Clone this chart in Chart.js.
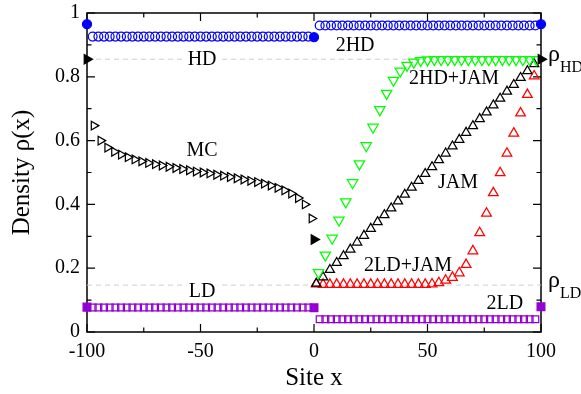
<!DOCTYPE html>
<html>
<head>
<meta charset="utf-8">
<script src="https://cdn.jsdelivr.net/npm/chart.js@4.4.1/dist/chart.umd.min.js"></script>
<style>
  html, body { margin: 0; padding: 0; background: #fff; }
  canvas { display: block; }
</style>
</head>
<body>
<canvas id="densityChart" width="581" height="394"></canvas>
<script>
// ---------------- DATA ----------------
const rhoHD = 0.855;
const rhoLD = 0.147;

// boundary points at x = -100, 0, 100 (filled markers)
const boundarySites = [-100, 0, 100];
const blueBoundary = [0.965, 0.924, 0.965];
const purpleBoundary = [0.078, 0.076, 0.079];
const blackBoundary = [0.855, 0.29, 0.855];

// HD / LD plateaus (open circles / open squares)
const leftSites = [-97.5, -95, -92.5, -90, -87.5, -85, -82.5, -80, -77.5, -75, -72.5, -70, -67.5,
  -65, -62.5, -60, -57.5, -55, -52.5, -50, -47.5, -45, -42.5, -40, -37.5, -35, -32.5, -30, -27.5,
  -25, -22.5, -20, -17.5, -15, -12.5, -10, -7.5, -5, -2.5];
const rightSites = [2.5, 5, 7.5, 10, 12.5, 15, 17.5, 20, 22.5, 25, 27.5, 30, 32.5, 35, 37.5, 40,
  42.5, 45, 47.5, 50, 52.5, 55, 57.5, 60, 62.5, 65, 67.5, 70, 72.5, 75, 77.5, 80, 82.5, 85, 87.5,
  90, 92.5, 95, 97.5];
const hdLeft = [0.926, 0.926, 0.926, 0.926, 0.926, 0.926, 0.926, 0.926, 0.926, 0.926, 0.926, 0.926,
  0.926, 0.926, 0.926, 0.926, 0.926, 0.926, 0.926, 0.926, 0.926, 0.926, 0.926, 0.926, 0.926, 0.926,
  0.926, 0.926, 0.926, 0.926, 0.926, 0.926, 0.926, 0.926, 0.926, 0.926, 0.926, 0.926, 0.926];
const hdRight = [0.961, 0.961, 0.961, 0.961, 0.961, 0.961, 0.961, 0.961, 0.961, 0.961, 0.961, 0.961,
  0.961, 0.961, 0.961, 0.961, 0.961, 0.961, 0.961, 0.961, 0.961, 0.961, 0.961, 0.961, 0.961, 0.961,
  0.961, 0.961, 0.961, 0.961, 0.961, 0.961, 0.961, 0.961, 0.961, 0.961, 0.961, 0.961, 0.961];
const ldLeft = [0.077, 0.077, 0.077, 0.077, 0.077, 0.077, 0.077, 0.077, 0.077, 0.077, 0.077, 0.077,
  0.077, 0.077, 0.077, 0.077, 0.077, 0.077, 0.077, 0.077, 0.077, 0.077, 0.077, 0.077, 0.077, 0.077,
  0.077, 0.077, 0.077, 0.077, 0.077, 0.077, 0.077, 0.077, 0.077, 0.077, 0.077, 0.077, 0.077];
const ldRight = [0.040, 0.040, 0.040, 0.040, 0.040, 0.040, 0.040, 0.040, 0.040, 0.040, 0.040, 0.040,
  0.040, 0.040, 0.040, 0.040, 0.040, 0.040, 0.040, 0.040, 0.040, 0.040, 0.040, 0.040, 0.040, 0.040,
  0.040, 0.040, 0.040, 0.040, 0.040, 0.040, 0.040, 0.040, 0.040, 0.040, 0.040, 0.040, 0.040];

// MC profile (left segment)
const mcSites = [-97, -94, -91, -88, -85, -82, -79, -76, -73, -70, -67, -64, -61, -58, -55, -52,
  -49, -46, -43, -40, -37, -34, -31, -28, -25, -22, -19, -16, -13, -10, -7, -4, -1];
const mcDensity = [0.647, 0.600, 0.578, 0.565, 0.556, 0.548, 0.541, 0.535, 0.530, 0.526, 0.522,
  0.518, 0.514, 0.511, 0.507, 0.503, 0.500, 0.497, 0.493, 0.490, 0.486, 0.482, 0.478, 0.474, 0.470,
  0.465, 0.459, 0.452, 0.444, 0.434, 0.420, 0.400, 0.356];

// right segment profiles
const jamSites = [1, 4, 7, 10, 13, 16, 19, 22, 25, 28, 31, 34, 37, 40, 43, 46, 49, 52, 55, 58, 61,
  64, 67, 70, 73, 76, 79, 82, 85, 88, 91, 94, 97];
const jamDensity = [0.152, 0.172, 0.195, 0.217, 0.238, 0.259, 0.281, 0.302, 0.324, 0.345, 0.367,
  0.388, 0.410, 0.431, 0.453, 0.474, 0.496, 0.517, 0.539, 0.560, 0.582, 0.603, 0.625, 0.646, 0.668,
  0.689, 0.711, 0.732, 0.754, 0.775, 0.797, 0.818, 0.840];
const ldJamDensity = [0.150, 0.149, 0.149, 0.149, 0.149, 0.149, 0.149, 0.149, 0.149, 0.149, 0.149,
  0.149, 0.149, 0.149, 0.149, 0.149, 0.149, 0.150, 0.154, 0.162, 0.171, 0.185, 0.211, 0.254, 0.311,
  0.372, 0.436, 0.499, 0.560, 0.623, 0.686, 0.744, 0.802];
const hdJamSites = [2, 5, 8, 11, 14, 17, 20, 23, 26, 29, 32, 35, 38, 41, 44, 47, 50, 53, 56, 59,
  62, 65, 68, 71, 74, 77, 80, 83, 86, 89, 92, 95, 98];
const hdJamDensity = [0.186, 0.241, 0.294, 0.351, 0.408, 0.468, 0.527, 0.584, 0.642, 0.697, 0.748,
  0.789, 0.818, 0.836, 0.846, 0.851, 0.853, 0.854, 0.854, 0.854, 0.854, 0.854, 0.854, 0.854, 0.854,
  0.854, 0.854, 0.854, 0.854, 0.854, 0.854, 0.854, 0.854];

// axes
const xTicks = [-100, -75, -50, -25, 0, 25, 50, 75, 100];
const yTicks = [0, 0.1, 0.2, 0.3, 0.4, 0.5, 0.6, 0.7, 0.8, 0.9, 1];

// text labels in the plot (data coords)
const phaseLabels = [
  { text: "HD", x: -49.3, y: 0.853, box: true },
  { text: "2HD", x: 18.1, y: 0.897 },
  { text: "MC", x: -49.3, y: 0.567 },
  { text: "2HD+JAM", x: 61.7, y: 0.793 },
  { text: "JAM", x: 63.4, y: 0.467 },
  { text: "2LD+JAM", x: 41.4, y: 0.207 },
  { text: "LD", x: -49.3, y: 0.125, box: true },
  { text: "2LD", x: 84.1, y: 0.088 }
];

const SERIF = '"Liberation Serif", "Times New Roman", serif';

function pts(xs, ys) {
  return xs.map((x, i) => ({ x: x, y: ys[i] }));
}

function markers(data, style, color, radius, filled, rotation) {
  return {
    data: data,
    showLine: false,
    clip: false,
    pointStyle: style,
    pointRadius: radius,
    pointHoverRadius: radius,
    pointRotation: rotation || 0,
    pointBorderColor: color,
    pointBackgroundColor: filled ? color : "rgba(0,0,0,0)",
    pointBorderWidth: 1.25
  };
}

function refLine(y) {
  return {
    type: "line",
    data: [{ x: -100, y: y }, { x: 100, y: y }],
    borderColor: "#cfcfcf",
    borderWidth: 1,
    borderDash: [5, 4],
    pointRadius: 0,
    clip: false
  };
}

// ---------------- FRAME, INWARD TICKS, LABELS ----------------
const framePlugin = {
  id: "frame",
  beforeDatasetsDraw(chart) {
    const ctx = chart.ctx;
    const xs = chart.scales.x, ys = chart.scales.y;
    const { left, right, top, bottom } = chart.chartArea;
    ctx.save();
    ctx.strokeStyle = "#000";
    ctx.lineWidth = 1.5;
    ctx.strokeRect(left, top, right - left, bottom - top);
    ctx.lineWidth = 1.2;
    ctx.beginPath();
    xTicks.forEach(v => {
      const px = xs.getPixelForValue(v);
      const len = v % 50 === 0 ? 8 : 4.5;
      ctx.moveTo(px, bottom); ctx.lineTo(px, bottom - len);
      ctx.moveTo(px, top); ctx.lineTo(px, top + len);
    });
    yTicks.forEach((v, i) => {
      const py = ys.getPixelForValue(v);
      const len = i % 2 === 0 ? 8 : 4.5;
      ctx.moveTo(left, py); ctx.lineTo(left + len, py);
      ctx.moveTo(right, py); ctx.lineTo(right - len, py);
    });
    ctx.stroke();
    ctx.restore();
  },
  afterDatasetsDraw(chart) {
    const ctx = chart.ctx;
    const xs = chart.scales.x, ys = chart.scales.y;
    ctx.save();
    ctx.font = "20px " + SERIF;
    ctx.textAlign = "center";
    ctx.textBaseline = "middle";
    phaseLabels.forEach(l => {
      const px = xs.getPixelForValue(l.x);
      const py = ys.getPixelForValue(l.y);
      if (l.box) {
        const w = ctx.measureText(l.text).width;
        ctx.fillStyle = "#fff";
        ctx.fillRect(px - w / 2 - 2, py - 8, w + 4, 16);
      }
      ctx.fillStyle = "#000";
      ctx.fillText(l.text, px, py);
    });

    // rho_HD and rho_LD on the right side
    const rx = chart.chartArea.right + 7;
    [["HD", rhoHD], ["LD", rhoLD]].forEach(([sub, val]) => {
      const py = ys.getPixelForValue(val);
      ctx.textAlign = "left";
      ctx.textBaseline = "alphabetic";
      ctx.font = "24px " + SERIF;
      ctx.fillText("\u03C1", rx, py + 2);
      const w = ctx.measureText("\u03C1").width;
      ctx.font = "16px " + SERIF;
      ctx.fillText(sub, rx + w, py + 13);
    });
    ctx.restore();
  }
};

Chart.defaults.color = "#000";
Chart.defaults.font.family = SERIF;

new Chart(document.getElementById("densityChart").getContext("2d"), {
  type: "scatter",
  data: {
    datasets: [
      markers(pts(boundarySites, blackBoundary), "triangle", "#000", 5.5, true, 90),
      markers(pts(boundarySites, blueBoundary), "circle", "#0000ff", 4.5, true),
      markers(pts(boundarySites, purpleBoundary), "rect", "#9400d3", 5.5, true),
      markers(pts(hdJamSites, hdJamDensity), "triangle", "#00ff00", 6, false, 180),
      markers(pts(jamSites, jamDensity), "triangle", "#000", 5.3, false),
      markers(pts(jamSites, ldJamDensity), "triangle", "#ff0000", 5.6, false),
      markers(pts(mcSites, mcDensity), "triangle", "#000", 5, false, 90),
      markers(pts(leftSites, hdLeft), "circle", "#0000ff", 4.4, false),
      markers(pts(rightSites, hdRight), "circle", "#0000ff", 4.4, false),
      markers(pts(leftSites, ldLeft), "rect", "#9400d3", 4.8, false),
      markers(pts(rightSites, ldRight), "rect", "#9400d3", 4.8, false),
      refLine(rhoHD),
      refLine(rhoLD)
    ]
  },
  options: {
    responsive: false,
    animation: false,
    events: [],
    layout: { padding: { top: 13, right: 40, left: 0, bottom: 0 } },
    plugins: {
      legend: { display: false },
      tooltip: { enabled: false }
    },
    scales: {
      x: {
        type: "linear",
        min: -100,
        max: 100,
        grid: { display: false, drawTicks: false },
        border: { display: false },
        ticks: { stepSize: 50, padding: 8, font: { size: 20, family: SERIF } },
        title: { display: true, text: "Site x", font: { size: 25, family: SERIF }, padding: { top: 0, bottom: 1 } },
        afterFit(scale) {
          scale.height = 62;
          scale.paddingLeft = 0;
          scale.paddingRight = 0;
        }
      },
      y: {
        type: "linear",
        min: 0,
        max: 1,
        grid: { display: false, drawTicks: false },
        border: { display: false },
        ticks: {
          stepSize: 0.2,
          padding: 7,
          font: { size: 20, family: SERIF },
          callback: v => String(Number(v.toFixed(2)))
        },
        title: { display: true, text: "Density \u03C1(x)", font: { size: 25, family: SERIF }, padding: { top: 7, bottom: 0 } },
        afterFit(scale) {
          scale.width = 87;
          scale.paddingTop = 0;
          scale.paddingBottom = 0;
        }
      }
    }
  },
  plugins: [framePlugin]
});
</script>
</body>
</html>
